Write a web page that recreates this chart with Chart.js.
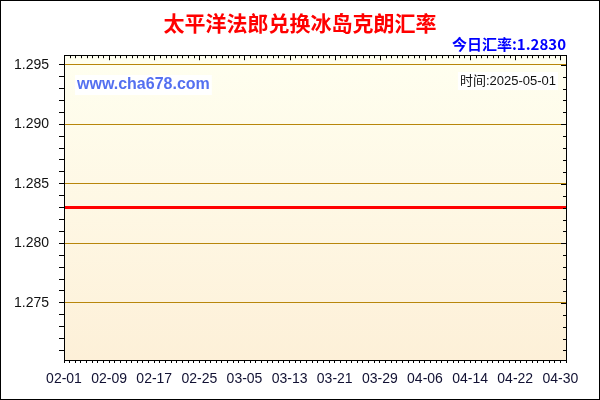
<!DOCTYPE html>
<html>
<head>
<meta charset="utf-8">
<script src="https://cdn.jsdelivr.net/npm/chart.js@4.4.1/dist/chart.umd.min.js"></script>
<style>
  html, body { margin: 0; padding: 0; background: #fff; }
  #wrap { width: 600px; height: 400px; }
</style>
</head>
<body>
<div id="wrap"><canvas id="rateChart"></canvas></div>
<script>
// Dates shown on the x axis (one point per day)
const dates = [
  '02-01','02-02','02-03','02-04','02-05','02-06','02-07','02-08','02-09','02-10',
  '02-11','02-12','02-13','02-14','02-15','02-16','02-17','02-18','02-19','02-20',
  '02-21','02-22','02-23','02-24','02-25','02-26','02-27','02-28','03-01','03-02',
  '03-03','03-04','03-05','03-06','03-07','03-08','03-09','03-10','03-11','03-12',
  '03-13','03-14','03-15','03-16','03-17','03-18','03-19','03-20','03-21','03-22',
  '03-23','03-24','03-25','03-26','03-27','03-28','03-29','03-30','03-31','04-01',
  '04-02','04-03','04-04','04-05','04-06','04-07','04-08','04-09','04-10','04-11',
  '04-12','04-13','04-14','04-15','04-16','04-17','04-18','04-19','04-20','04-21',
  '04-22','04-23','04-24','04-25','04-26','04-27','04-28','04-29','04-30','05-01'
];

// Exchange rate, XPF -> ISK
const rates = [
  1.283,1.283,1.283,1.283,1.283,1.283,1.283,1.283,1.283,1.283,
  1.283,1.283,1.283,1.283,1.283,1.283,1.283,1.283,1.283,1.283,
  1.283,1.283,1.283,1.283,1.283,1.283,1.283,1.283,1.283,1.283,
  1.283,1.283,1.283,1.283,1.283,1.283,1.283,1.283,1.283,1.283,
  1.283,1.283,1.283,1.283,1.283,1.283,1.283,1.283,1.283,1.283,
  1.283,1.283,1.283,1.283,1.283,1.283,1.283,1.283,1.283,1.283,
  1.283,1.283,1.283,1.283,1.283,1.283,1.283,1.283,1.283,1.283,
  1.283,1.283,1.283,1.283,1.283,1.283,1.283,1.283,1.283,1.283,
  1.283,1.283,1.283,1.283,1.283,1.283,1.283,1.283,1.283,1.283
];

// Labelled y values (gridlines)
const yMajor = [1.275, 1.280, 1.285, 1.290, 1.295];

const titleText = '太平洋法郎兑换冰岛克朗汇率';
const subText = '今日汇率:1.2830';
const siteText = 'www.cha678.com';
const timeText = '时间:2025-05-01';

const isMajor = v => yMajor.some(m => Math.abs(m - v) < 1e-7);

// background, frame, inner tick marks and the two stamps in the plot
const decorPlugin = {
  id: 'decor',
  beforeDraw(chart) {
    const ctx = chart.ctx;
    const a = chart.chartArea;
    ctx.save();
    ctx.fillStyle = '#ffffff';
    ctx.fillRect(0, 0, chart.width, chart.height);
    const g = ctx.createLinearGradient(0, a.top, 0, a.bottom);
    g.addColorStop(0, '#fffff0');
    g.addColorStop(1, '#fdf0d8');
    ctx.fillStyle = g;
    ctx.fillRect(a.left, a.top, a.right - a.left, a.bottom - a.top);
    ctx.restore();
  },
  afterDraw(chart) {
    const ctx = chart.ctx;
    const a = chart.chartArea;
    const xs = chart.scales.x;
    const ys = chart.scales.y;
    ctx.save();
    ctx.strokeStyle = '#000';
    ctx.lineWidth = 1;
    // top ticks pointing down, right ticks pointing left
    ctx.beginPath();
    dates.forEach((d, i) => {
      const x = Math.round(xs.getPixelForValue(i)) + 0.5;
      const len = i % 8 === 0 ? 5 : 3;
      ctx.moveTo(x, a.top);
      ctx.lineTo(x, a.top + len);
    });
    ys.ticks.forEach(t => {
      const y = Math.round(ys.getPixelForValue(t.value)) + 0.5;
      const len = isMajor(t.value) ? 5 : 3;
      ctx.moveTo(a.right, y);
      ctx.lineTo(a.right - len, y);
    });
    ctx.stroke();
    // frame
    ctx.strokeRect(Math.round(a.left) + 0.5, Math.round(a.top) + 0.5,
      Math.round(a.right - a.left), Math.round(a.bottom - a.top));
    // outer border
    ctx.strokeRect(0.5, 0.5, chart.width - 1, chart.height - 1);

    // site stamp
    ctx.font = 'bold 16px "Liberation Sans", Arial, sans-serif';
    const w1 = ctx.measureText(siteText).width;
    ctx.fillStyle = '#ffffff';
    ctx.fillRect(75, 75, w1 + 4, 20);
    ctx.fillStyle = '#5470f0';
    ctx.textBaseline = 'middle';
    ctx.textAlign = 'left';
    ctx.fillText(siteText, 77, 85);

    // date stamp
    ctx.font = '13px "Liberation Sans", "Noto Sans CJK SC", sans-serif';
    const w2 = ctx.measureText(timeText).width;
    ctx.fillStyle = '#ffffff';
    ctx.fillRect(556 - w2 - 2, 72, w2 + 4, 18);
    ctx.fillStyle = '#111';
    ctx.textAlign = 'right';
    ctx.fillText(timeText, 556, 81);
    ctx.restore();
  }
};

new Chart(document.getElementById('rateChart'), {
  type: 'line',
  data: {
    labels: dates,
    datasets: [{
      label: 'rate',
      data: rates,
      borderColor: '#ff0000',
      borderWidth: 3,
      pointRadius: 0,
      tension: 0,
      fill: false
    }]
  },
  options: {
    responsive: true,
    maintainAspectRatio: false,
    animation: false,
    layout: { padding: 0 },
    scales: {
      x: {
        offset: false,
        border: { color: '#000' },
        grid: {
          drawOnChartArea: false,
          drawTicks: true,
          tickLength: 3,
          tickColor: '#000'
        },
        ticks: {
          autoSkip: false,
          maxRotation: 0,
          padding: 8,
          color: '#111133',
          font: { family: '"Liberation Sans", Arial, sans-serif', size: 14 },
          callback: function (value, index) {
            return index % 8 === 0 ? this.getLabelForValue(value) : '';
          }
        },
        afterFit: s => { s.height = 40; }
      },
      y: {
        min: 1.2702,
        max: 1.2958,
        border: { color: '#000' },
        grid: {
          color: c => (c.tick && isMajor(c.tick.value)) ? '#b8860b' : 'rgba(0,0,0,0)',
          tickColor: '#000',
          tickLength: 5
        },
        ticks: {
          stepSize: 0.001,
          includeBounds: false,
          autoSkip: false,
          padding: 10,
          color: '#111',
          font: { family: '"Liberation Sans", Arial, sans-serif', size: 14 },
          callback: v => isMajor(v) ? v.toFixed(3) : ''
        },
        afterFit: s => { s.width = 64; }
      },
      y2: {
        position: 'right',
        min: 1.2702,
        max: 1.2958,
        border: { display: false },
        grid: { drawOnChartArea: false, drawTicks: false },
        ticks: { display: false },
        afterFit: s => { s.width = 34; }
      }
    },
    plugins: {
      legend: { display: false },
      tooltip: { enabled: false },
      title: {
        display: true,
        text: titleText,
        color: '#ff0000',
        font: { family: '"Noto Sans CJK SC", sans-serif', size: 21, weight: 'bold', lineHeight: 1.2 },
        padding: { top: 10, bottom: 0 }
      },
      subtitle: {
        display: true,
        fullSize: false,
        align: 'end',
        text: subText,
        color: '#0000ff',
        font: { family: '"Noto Sans CJK SC", sans-serif', size: 15, weight: 'bold', lineHeight: 1.2 },
        padding: { top: 0, bottom: 2 }
      }
    }
  },
  plugins: [decorPlugin]
});
</script>
</body>
</html>
